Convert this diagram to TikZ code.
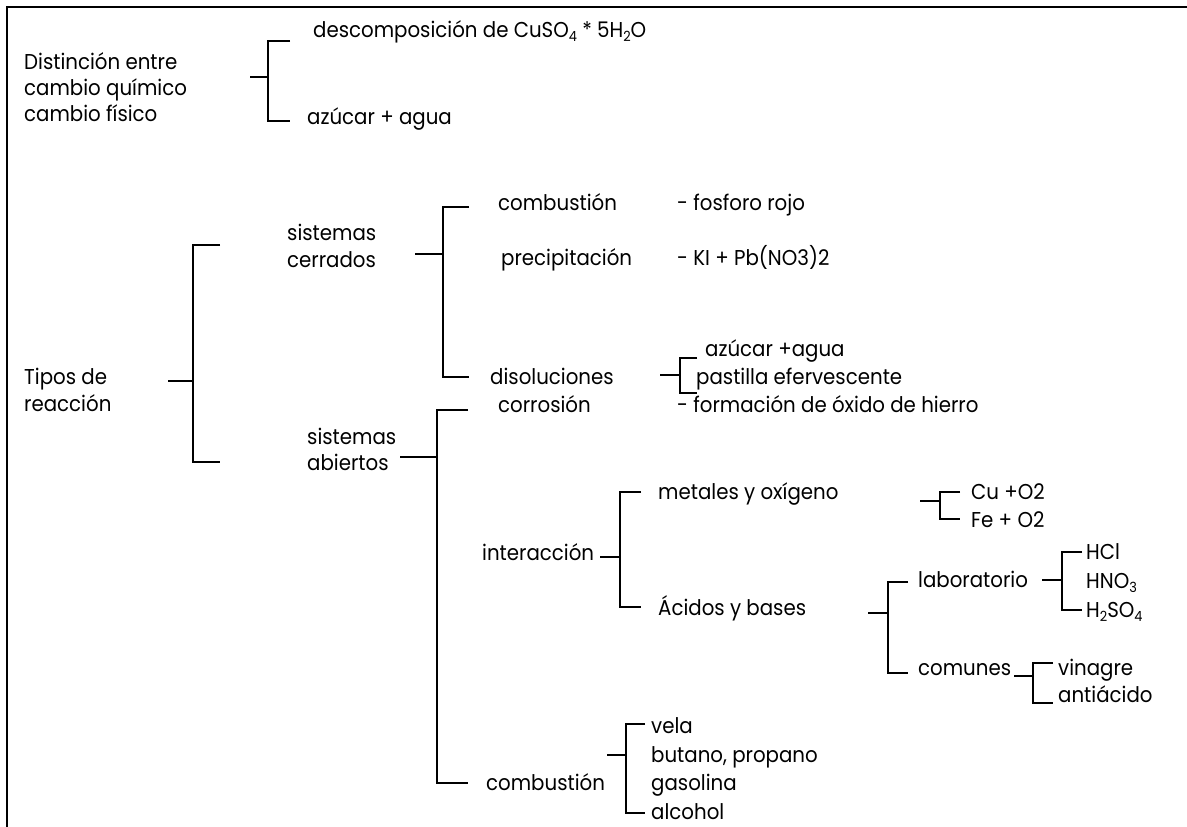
\documentclass[tikz,border=0pt]{standalone}
\usepackage{fontspec}
\setmainfont[FakeStretch=0.92]{Poppins}
\newcommand\subs[1]{\raisebox{-0.35ex}{\fontsize{14}{14}\selectfont #1}}
\begin{document}
\begin{tikzpicture}[x=1pt,y=-1pt,
  txt/.style={anchor=base west,inner sep=0pt,font=\fontsize{21.5}{26}\selectfont},
  conn/.style={line width=1.5pt},
  stub/.style={line width=2.2pt},
  frame/.style={line width=2.8pt}]
\useasboundingbox (0,0) rectangle (1187,827);
\newcommand\tx[4]{\node[txt] (#1) at (#2,#3+7) {#4};}
\newcommand\brk[7]{%
  \coordinate (#1t) at (#5,#3); \coordinate (#1b) at (#5,#4); \coordinate (#1s) at (#6,#7);
  \draw[conn] (#1t) -- (#2,#3) -- (#2,#4) -- (#1b);
  \draw[stub] (#1s) -- (#2,#7);}
% frame
\coordinate (fa) at (7,827); \coordinate (fb) at (7,7); \coordinate (fc) at (1187,7);
\draw[frame] (fa) -- (fb) -- (fc);
% group 1
\tx{d1}{313}{30}{descomposición de CuSO\subs{4} * 5H\subs{2}O}
\tx{t1a}{24}{62}{Distinción entre}
\tx{t1b}{24}{88}{cambio químico}
\tx{t1c}{24}{114}{cambio físico}
\tx{a1}{307}{117}{azúcar + agua}
% group 2
\tx{tip1}{24}{377}{Tipos de}
\tx{tip2}{24}{404}{reacción}
\tx{sc1}{287}{233}{sistemas}
\tx{sc2}{287}{260}{cerrados}
\tx{comb1}{498}{203}{combustión}
\tx{prec}{501}{258}{precipitación}
\tx{diso}{490}{377}{disoluciones}
\tx{fos}{677}{203}{- fosforo rojo}
\tx{ki}{677}{258}{- KI + Pb(NO3)2}
\tx{az2}{705}{349}{azúcar +agua}
\tx{pas}{696}{377}{pastilla efervescente}
\tx{corr}{498}{405}{corrosión}
\tx{form}{677}{405}{- formación de óxido de hierro}
\tx{sa1}{307}{437}{sistemas}
\tx{sa2}{307}{463}{abiertos}
\tx{inter}{482}{553}{interacción}
\tx{met}{658}{492}{metales y oxígeno}
\tx{acid}{658}{608}{Ácidos y bases}
\tx{cu}{971}{492}{Cu +O2}
\tx{fe}{971}{520}{Fe + O2}
\tx{lab}{918}{580}{laboratorio}
\tx{hcl}{1086}{552}{HCl}
\tx{hno}{1086}{581}{HNO\subs{3}}
\tx{hso}{1086}{610}{H\subs{2}SO\subs{4}}
\tx{com}{918}{668}{comunes}
\tx{vin}{1058}{668}{vinagre}
\tx{ant}{1058}{695}{antiácido}
\tx{comb2}{486}{783}{combustión}
\tx{vela}{651}{726}{vela}
\tx{but}{651}{755}{butano, propano}
\tx{gas}{651}{783}{gasolina}
\tx{alc}{651}{812}{alcohol}
% brackets
\brk{g1}{268}{41}{121}{290}{250}{77}
\brk{tp}{193}{245}{462}{220}{168}{381}
\brk{ce}{443}{207}{377}{469}{415}{254}
\brk{ds}{680}{358}{393}{697}{660}{375}
\brk{ab}{437}{410}{783}{468}{400}{457}
\brk{in}{620}{492}{607}{641}{600}{557}
\brk{cu}{940}{492}{519}{960}{920}{501}
\brk{ac}{888}{582}{673}{908}{868}{613}
\brk{lb}{1062}{552}{610}{1082}{1042}{580}
\brk{cm}{1033}{663}{703}{1053}{1014}{676}
\brk{cb}{626}{724}{813}{645}{607}{755}
\end{tikzpicture}
\end{document}
